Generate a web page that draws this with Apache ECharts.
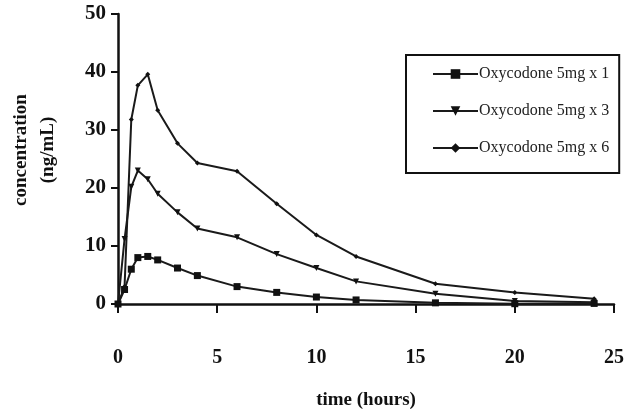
<!DOCTYPE html>
<html>
<head>
<meta charset="utf-8">
<script src="https://cdn.jsdelivr.net/npm/echarts@6/dist/echarts.min.js"></script>
<style>html,body{margin:0;padding:0;background:#fff}#c{width:636px;height:410px}</style>
</head>
<body>
<div id="c"></div>
<script>
var times = [0, 0.33, 0.67, 1, 1.5, 2, 3, 4, 6, 8, 10, 12, 16, 20, 24];
var dose1 = [0, 2.5, 6.0, 8.0, 8.2, 7.6, 6.2, 4.9, 3.0, 2.0, 1.2, 0.7, 0.2, 0.05, 0.1];
var dose3 = [0, 11.2, 20.2, 23.0, 21.5, 19.0, 15.8, 13.0, 11.5, 8.6, 6.2, 3.9, 1.75, 0.5, 0.3];
var dose6 = [0, 3.0, 31.8, 37.7, 39.6, 33.4, 27.7, 24.3, 22.9, 17.3, 11.9, 8.2, 3.5, 2.0, 0.9];
var seriesNames = ['Oxycodone 5mg x 1', 'Oxycodone 5mg x 3', 'Oxycodone 5mg x 6'];
var xTicks = [0, 5, 10, 15, 20, 25];
var yTicks = [0, 10, 20, 30, 40, 50];

function pairs(v) { return times.map(function (t, i) { return [t, v[i]]; }); }

var chart = echarts.init(document.getElementById('c'), null, {renderer: 'canvas'});
var serif = '"Liberation Serif", "DejaVu Serif", serif';
var lineStyle = {color: '#1a1a1a', width: 2};
chart.setOption({
  animation: false,
  backgroundColor: '#fff',
  grid: {left: 118, right: 22, top: 14, bottom: 106, containLabel: false, outerBoundsMode: 'none'},
  legend: {
    orient: 'vertical', left: 406, top: 55,
    data: seriesNames,
    itemWidth: 45, itemHeight: 12, itemGap: 21,
    padding: [11, 10, 17, 26],
    borderColor: '#111', borderWidth: 2,
    textStyle: {fontFamily: serif, fontSize: 16, color: '#222', padding: [0, 0, 0, -4]}
  },
  xAxis: {
    type: 'value', min: xTicks[0], max: xTicks[xTicks.length - 1], interval: 5,
    name: 'time (hours)', nameLocation: 'middle', nameGap: 87,
    nameTextStyle: {fontFamily: serif, fontSize: 19, fontWeight: 'bold', color: '#111'},
    axisLine: {show: true, lineStyle: {color: '#111', width: 2.5}},
    axisTick: {show: true, length: 9, lineStyle: {color: '#111', width: 2}},
    axisLabel: {margin: 44, fontFamily: serif, fontSize: 20, fontWeight: 'bold', color: '#111'},
    splitLine: {show: false}
  },
  yAxis: {
    type: 'value', min: yTicks[0], max: yTicks[yTicks.length - 1], interval: 10,
    name: 'concentration\n(ng/mL)', nameLocation: 'middle', nameGap: 56, nameRotate: 90,
    nameTextStyle: {fontFamily: serif, fontSize: 19, fontWeight: 'bold', color: '#111', lineHeight: 27, padding: [0, 0, 0, 18]},
    axisLine: {show: true, lineStyle: {color: '#111', width: 2.5}},
    axisTick: {show: true, length: 7, lineStyle: {color: '#111', width: 2}},
    axisLabel: {margin: 12, fontFamily: serif, fontSize: 21, fontWeight: 'bold', color: '#111'},
    splitLine: {show: false}
  },
  series: [
    {name: seriesNames[0], type: 'line', data: pairs(dose1), symbol: 'rect', symbolSize: 7,
     itemStyle: {color: '#111'}, lineStyle: lineStyle},
    {name: seriesNames[1], type: 'line', data: pairs(dose3), symbol: 'triangle', symbolSize: 6, symbolRotate: 180,
     itemStyle: {color: '#111'}, lineStyle: lineStyle},
    {name: seriesNames[2], type: 'line', data: pairs(dose6), symbol: 'diamond', symbolSize: 5,
     itemStyle: {color: '#111'}, lineStyle: lineStyle}
  ]
});
</script>
</body>
</html>
